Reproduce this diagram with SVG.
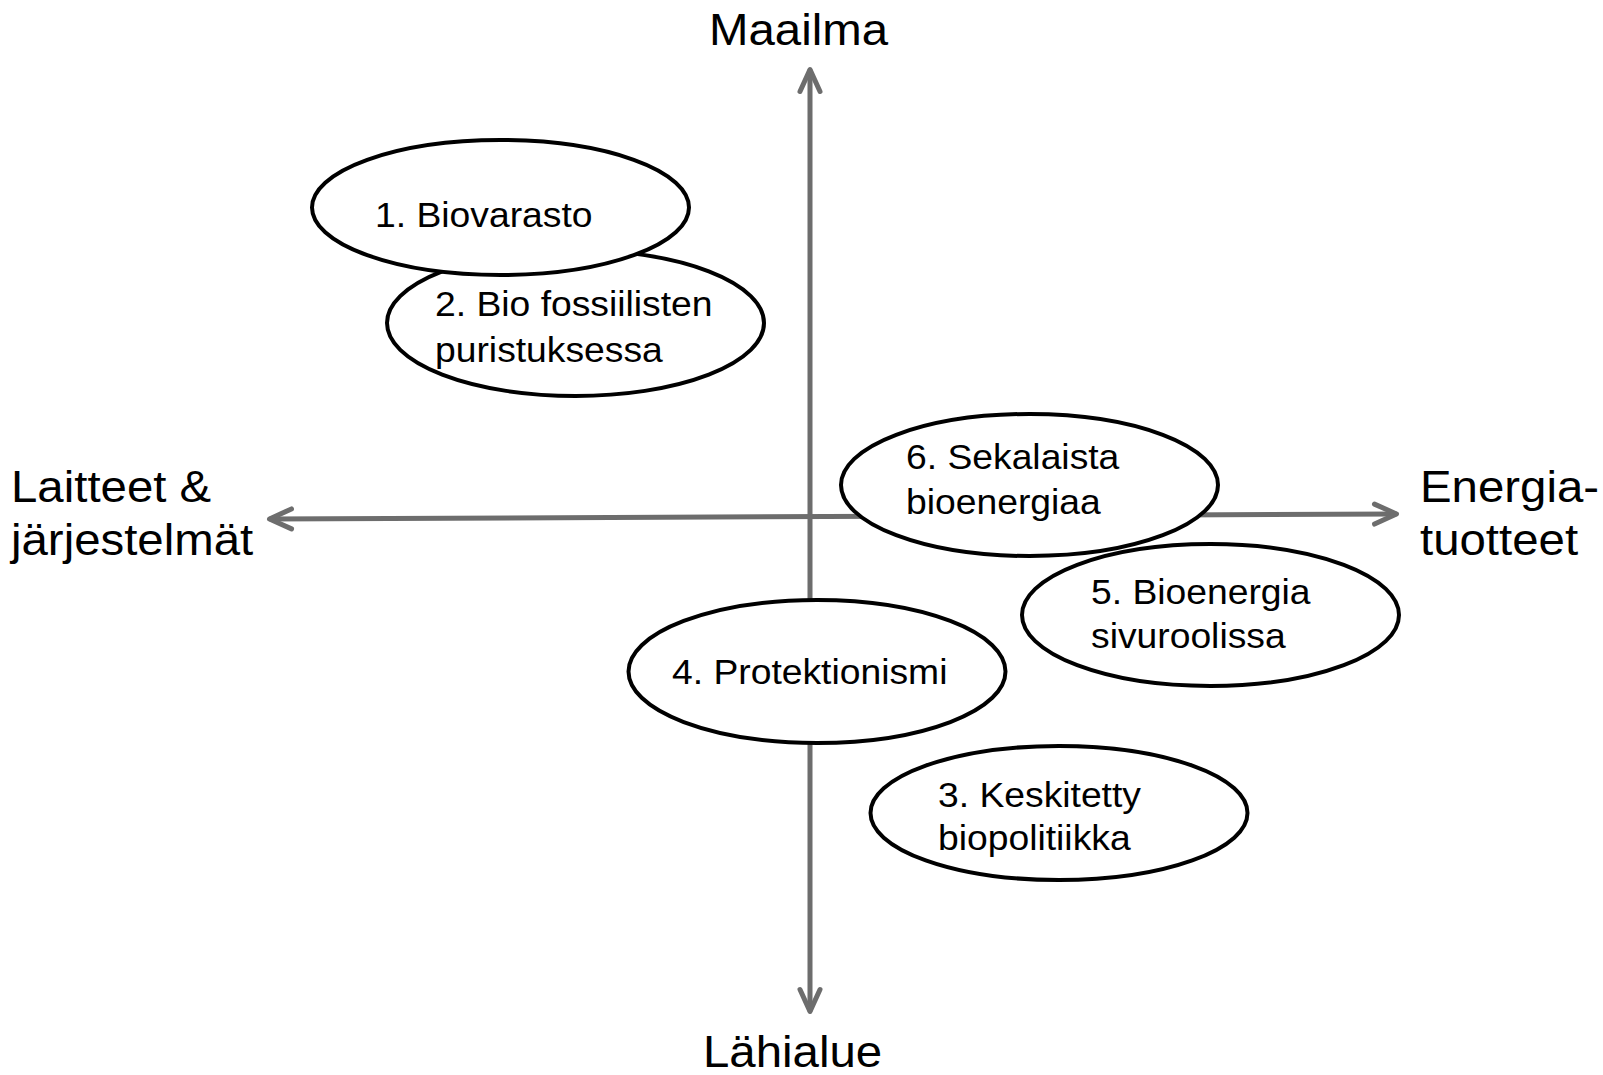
<svg xmlns="http://www.w3.org/2000/svg" width="1603" height="1075" viewBox="0 0 1603 1075">
<style>
text { font-family: "Liberation Sans", Arial, sans-serif; fill: #000; }
.small { font-size: 35px; }
.big { font-size: 44.5px; }
.axis { stroke: #6d6d6d; stroke-width: 5; fill: none; marker-start: url(#arr); marker-end: url(#arr); }
.node ellipse { fill: #fff; stroke: #000; stroke-width: 4; }
</style>
<defs>
<marker id="arr" markerUnits="userSpaceOnUse" orient="auto-start-reverse" refX="0" refY="0" markerWidth="40" markerHeight="40" viewBox="-30 -20 40 40" overflow="visible">
<path d="M-22,-10 L0,0 L-22,10" fill="none" stroke="#6d6d6d" stroke-width="5" stroke-linecap="round" stroke-linejoin="round"/>
</marker>
</defs>
<rect width="1603" height="1075" fill="#fff"/>
<g id="axes">
<line class="axis" x1="810" y1="1011.5" x2="810" y2="69.5"/>
<line class="axis" x1="1396.5" y1="514" x2="269.5" y2="519"/>
</g>
<g id="axis-labels">
<text class="big" transform="translate(709,45) scale(1.065,1)">Maailma</text>
<text class="big" transform="translate(703,1067) scale(1.065,1)">Lähialue</text>
<text class="big" transform="translate(11,502) scale(1.065,1)"><tspan x="0" y="0">Laitteet &amp;</tspan><tspan x="0" y="53">järjestelmät</tspan></text>
<text class="big" transform="translate(1420,502) scale(1.065,1)"><tspan x="0" y="0">Energia-</tspan><tspan x="0" y="53">tuotteet</tspan></text>
</g>
<g id="node2" class="node">
<ellipse cx="575.5" cy="323" rx="188.5" ry="73"/>
<text class="small" transform="translate(435,316) scale(1.065,1)"><tspan x="0" y="0">2. Bio fossiilisten</tspan><tspan x="0" y="46">puristuksessa</tspan></text>
</g>
<g id="node1" class="node">
<ellipse cx="500.5" cy="207.5" rx="188.5" ry="67.5"/>
<text class="small" transform="translate(375,227) scale(1.065,1)">1. Biovarasto</text>
</g>
<g id="node5" class="node">
<ellipse cx="1210.5" cy="615" rx="188.5" ry="71"/>
<text class="small" transform="translate(1091,604) scale(1.065,1)"><tspan x="0" y="0">5. Bioenergia</tspan><tspan x="0" y="44">sivuroolissa</tspan></text>
</g>
<g id="node6" class="node">
<ellipse cx="1029.5" cy="485" rx="188.5" ry="71"/>
<text class="small" transform="translate(906,469) scale(1.065,1)"><tspan x="0" y="0">6. Sekalaista</tspan><tspan x="0" y="45">bioenergiaa</tspan></text>
</g>
<g id="node3" class="node">
<ellipse cx="1059" cy="813" rx="188.5" ry="67"/>
<text class="small" transform="translate(938,806.5) scale(1.065,1)"><tspan x="0" y="0">3. Keskitetty</tspan><tspan x="0" y="44">biopolitiikka</tspan></text>
</g>
<g id="node4" class="node">
<ellipse cx="817" cy="671.5" rx="188.5" ry="71.5"/>
<text class="small" transform="translate(672,684) scale(1.065,1)">4. Protektionismi</text>
</g>
</svg>
